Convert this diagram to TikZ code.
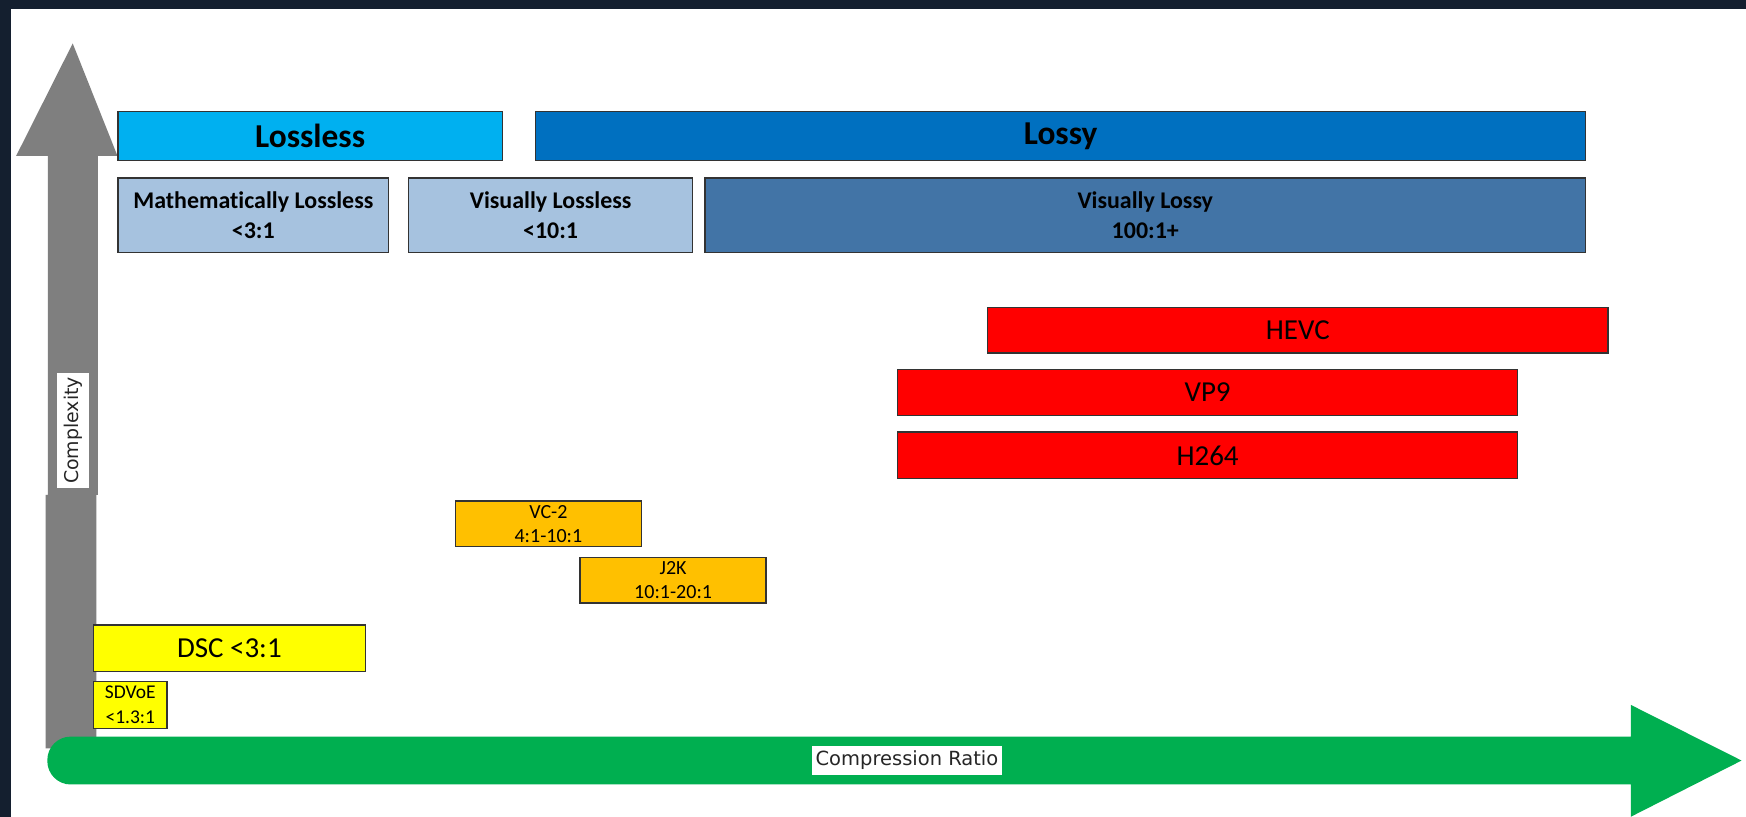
\documentclass[tikz,border=0pt]{standalone}
\usepackage{fontspec}
\setmainfont{Carlito}[Ligatures=NoCommon]
\newfontfamily\vfont{DejaVu Sans}
\definecolor{bgdark}{HTML}{141F2F}
\definecolor{arrowgray}{HTML}{7F7F7F}
\definecolor{arrowgreen}{HTML}{00AF50}
\definecolor{losslesscol}{HTML}{00B0F0}
\definecolor{lossycol}{HTML}{0070C0}
\definecolor{lightsteel}{HTML}{A6C2DF}
\definecolor{midsteel}{HTML}{4274A6}
\definecolor{codecred}{HTML}{FF0000}
\definecolor{codecorange}{HTML}{FFC000}
\definecolor{codecyellow}{HTML}{FFFF00}
\begin{document}
\begin{tikzpicture}[x=1pt,y=-1pt,
  bar/.style={draw=black!80, line width=1.2pt, inner sep=0pt, align=center, text=black},
  headfont/.style={font=\bfseries\fontsize{30}{36}\selectfont},
  subfont/.style={font=\bfseries\fontsize{21.5}{27}\selectfont},
  codecfont/.style={font=\fontsize{26}{30}\selectfont},
  smallfont/.style={font=\fontsize{18}{21}\selectfont},
  tinyfont/.style={font=\fontsize{17.5}{22}\selectfont},
  axislabel/.style={fill=white, inner sep=0pt, text=black!85}
]
\useasboundingbox (0,0) rectangle (1568,733.7);
\fill[bgdark] (0,0) rectangle (1568,733.7);
\fill[white] (9.6,8.2) rectangle (1568,733.7);

% vertical complexity arrow
\fill[arrowgray] (65.3,39) -- (105.5,140) -- (88,140) -- (88,444.5) -- (86.5,444.5)
  -- (86.5,672) -- (41,672) -- (41,444.5) -- (43,444.5) -- (43,140) -- (14.5,140) -- cycle;
\node[axislabel, rotate=90, minimum width=103, minimum height=29,
  font=\vfont\fontsize{17}{20}\selectfont] (cplx) at (65.5,386.5) {Complexity};

% horizontal compression arrow
\fill[arrowgreen] (700,661.5) [rounded corners=21] -- (42.5,661.5) -- (42.5,704.5) -- (700,704.5)
  [sharp corners] -- (1464.5,704.5) -- (1464.5,733.5) -- (1564,683) -- (1464.5,633)
  -- (1464.5,661.5) -- cycle;
\node[axislabel, minimum width=171, minimum height=26,
  font=\vfont\fontsize{17.5}{20}\selectfont] (cratio) at (814.5,683) {Compression Ratio};

% category bars
\node[bar, headfont, fill=losslesscol, minimum width=345, minimum height=44] (lossless) at (278.5,122) {Lossless};
\node[bar, headfont, fill=lossycol, minimum width=943, minimum height=44] (lossy) at (952.5,122) {Lossy};

\node[bar, subfont, fill=lightsteel, minimum width=243, minimum height=67] (mathll) at (227.5,193.5) {Mathematically Lossless\\<3:1};
\node[bar, subfont, fill=lightsteel, minimum width=255, minimum height=67] (visll) at (494.5,193.5) {Visually Lossless\\<10:1};
\node[bar, subfont, fill=midsteel, minimum width=791, minimum height=67] (visly) at (1028.5,193.5) {Visually Lossy\\100:1+};

% codecs
\node[bar, codecfont, fill=codecred, minimum width=557, minimum height=41] (hevc) at (1165.5,296.5) {HEVC};
\node[bar, codecfont, fill=codecred, minimum width=557, minimum height=41] (vp9) at (1084.5,352.5) {VP9};
\node[bar, codecfont, fill=codecred, minimum width=557, minimum height=42] (h264) at (1084.5,409) {H264};

\node[bar, smallfont, fill=codecorange, minimum width=167, minimum height=41] (vc2) at (492.5,470.5) {VC-2\\4:1-10:1};
\node[bar, smallfont, fill=codecorange, minimum width=167, minimum height=41] (j2k) at (604.5,521) {J2K\\10:1-20:1};

\node[bar, codecfont, fill=codecyellow, minimum width=244, minimum height=41.5] (dsc) at (206,582) {DSC <3:1};
\node[bar, tinyfont, fill=codecyellow, minimum width=66, minimum height=42] (sdvoe) at (117,633) {SDVoE\\<1.3:1};
\end{tikzpicture}
\end{document}
